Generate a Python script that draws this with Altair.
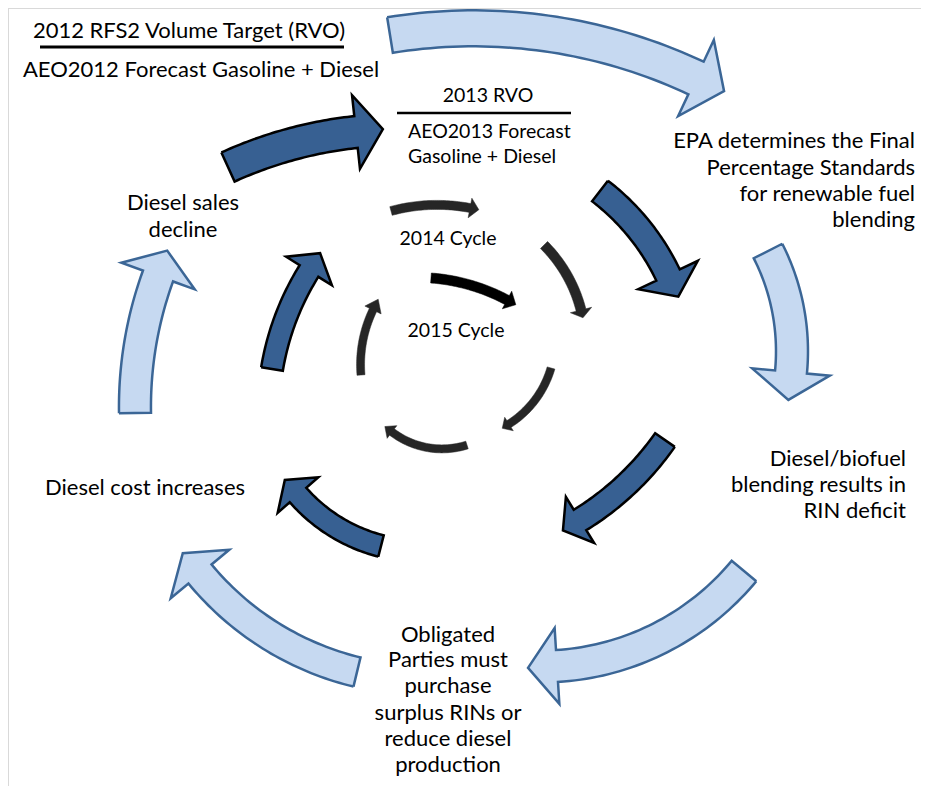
import math
import altair as alt
import pandas as pd

# ------------------------------------------------------------------
# Arrow geometry (figure pixel coordinates).
# Each curved arrow: tail centre, a point half-way along, head-base centre,
# half band width, half head width and head length.
# ------------------------------------------------------------------
arrow_ring = ["outer"] * 5 + ["middle"] * 5 + ["inner"] * 5 + ["cycle2015"]
tail_x = [390, 768, 744, 357, 135, 228, 600, 665, 381, 272, 391, 544, 551, 467, 361, 431]
tail_y = [35, 251, 571, 672, 413, 167, 191, 440, 546, 369, 211, 245, 368, 445, 375, 278]
mid_x = [543, 789, 660, 271, 140, 292, 639, 627, 336, 285, 431, 568, 535, 430, 363, 470]
mid_y = [33, 315, 638, 636, 345, 144, 229, 484, 527, 320, 205, 277, 400, 448, 340, 285]
head_x = [696, 791, 557, 200, 158, 356, 668, 580, 298, 309, 470, 581, 509, 392, 373, 507]
head_y = [78, 372, 666, 574, 276, 132, 275, 520, 495, 271, 208, 310, 424, 432, 310, 300]
band_half = [18, 16, 16, 15, 16, 16, 13, 12, 11, 11, 4.5, 5, 4, 4, 4, 5]
head_half = [42, 39, 38, 38, 39, 37, 33, 27, 27, 27, 10, 11, 8, 8, 9, 10]
head_len = [31, 28, 29, 27, 27, 27, 24, 20, 20, 21, 9, 8, 8, 9, 12, 10]

# ------------------------------------------------------------------
# Text labels
# ------------------------------------------------------------------
big_center_text = ["2012 RFS2 Volume Target (RVO)", "AEO2012 Forecast Gasoline + Diesel",
                   "Diesel sales", "decline",
                   "Obligated", "Parties must", "purchase", "surplus RINs or",
                   "reduce diesel", "production"]
big_center_x = [189, 201, 183, 183, 448, 448, 448, 448, 448, 448]
big_center_y = [38, 77, 210, 237, 642, 667, 693, 720, 746, 772]

big_right_text = ["EPA determines the Final", "Percentage Standards", "for renewable fuel",
                  "blending", "Diesel/biofuel", "blending results in", "RIN deficit"]
big_right_x = [915, 915, 915, 915, 906, 906, 906]
big_right_y = [148, 175, 201, 227, 466, 492, 518]

big_left_text = ["Diesel cost increases"]
big_left_x = [45]
big_left_y = [495]

small_center_text = ["2013 RVO", "2014 Cycle", "2015 Cycle"]
small_center_x = [488, 448, 456]
small_center_y = [102, 245, 337]

small_left_text = ["AEO2013 Forecast", "Gasoline + Diesel"]
small_left_x = [408, 408]
small_left_y = [138, 163]

rule_x = [40, 397]
rule_x2 = [344, 571]
rule_y = [47, 113]
rule_w = [3, 2.5]


def circle_through(p1, p2, p3):
    ax, ay = p1
    bx, by = p2
    cx, cy = p3
    d = 2 * (ax * (by - cy) + bx * (cy - ay) + cx * (ay - by))
    ux = ((ax * ax + ay * ay) * (by - cy) + (bx * bx + by * by) * (cy - ay) + (cx * cx + cy * cy) * (ay - by)) / d
    uy = ((ax * ax + ay * ay) * (cx - bx) + (bx * bx + by * by) * (ax - cx) + (cx * cx + cy * cy) * (bx - ax)) / d
    return ux, uy


def arrow_polygon(i, n=40):
    T = (tail_x[i], tail_y[i])
    M = (mid_x[i], mid_y[i])
    H = (head_x[i], head_y[i])
    ux, uy = circle_through(T, M, H)
    r = math.hypot(T[0] - ux, T[1] - uy)
    a0 = math.atan2(T[1] - uy, T[0] - ux)
    am = math.atan2(M[1] - uy, M[0] - ux)
    a1 = math.atan2(H[1] - uy, H[0] - ux)
    tw = 2 * math.pi
    if (am - a0) % tw < (a1 - a0) % tw:
        sweep = (a1 - a0) % tw
    else:
        sweep = -((a0 - a1) % tw)
    w, hh, L = band_half[i], head_half[i], head_len[i]
    pts = []
    for k in range(n + 1):
        a = a0 + sweep * k / n
        pts.append((ux + (r + w) * math.cos(a), uy + (r + w) * math.sin(a)))
    ae = a0 + sweep
    s = 1 if sweep > 0 else -1
    hx = ux + r * math.cos(ae)
    hy = uy + r * math.sin(ae)
    pts.append((ux + (r + hh) * math.cos(ae), uy + (r + hh) * math.sin(ae)))
    pts.append((hx + L * s * -math.sin(ae), hy + L * s * math.cos(ae)))
    pts.append((ux + (r - hh) * math.cos(ae), uy + (r - hh) * math.sin(ae)))
    for k in range(n, -1, -1):
        a = a0 + sweep * k / n
        pts.append((ux + (r - w) * math.cos(a), uy + (r - w) * math.sin(a)))
    pts.append(pts[0])
    return pts


rows = []
for i in range(len(arrow_ring)):
    for k, (px, py) in enumerate(arrow_polygon(i)):
        rows.append({"id": i, "ring": arrow_ring[i], "k": k, "x": px, "y": py})
arrows = pd.DataFrame(rows)

W, H = 913, 778
xs = alt.Scale(domain=[8, 8 + W], nice=False, zero=False)
ys = alt.Scale(domain=[8 + H, 8], nice=False, zero=False)
X = lambda f="x": alt.X(f"{f}:Q", scale=xs, axis=None)
Y = lambda f="y": alt.Y(f"{f}:Q", scale=ys, axis=None)


def arrow_layer(ring, fill, stroke, sw):
    d = arrows[arrows["ring"] == ring]
    return alt.Chart(d).mark_line(fill=fill, stroke=stroke, strokeWidth=sw,
                                  strokeJoin="miter", interpolate="linear").encode(
        x=X(), y=Y(), detail="id:N", order="k:Q")


FONT = "Lato"


def text_layer(texts, xv, yv, align, size):
    d = pd.DataFrame({"t": texts, "x": xv, "y": yv})
    return alt.Chart(d).mark_text(align=align, baseline="alphabetic", font=FONT,
                                  fontSize=size, color="#000000").encode(
        x=X(), y=Y(), text="t:N")


border = alt.Chart(pd.DataFrame({"x": [8, 8], "x2": [8 + W, 8], "y": [8, 8], "y2": [8, 8 + H]})).mark_rule(
    color="#d9d9d9", strokeWidth=2).encode(x=X(), x2="x2:Q", y=Y(), y2="y2:Q")

rules = alt.Chart(pd.DataFrame({"x": rule_x, "x2": rule_x2, "y": rule_y, "w": rule_w})).mark_rule(
    color="#000000").encode(x=X(), x2="x2:Q", y=Y(), strokeWidth=alt.StrokeWidth("w:Q", scale=None))

BIG, SMALL = 22, 19.5
chart = alt.layer(
    border,
    arrow_layer("outer", "#c6d9f1", "#3b6696", 2.5),
    arrow_layer("middle", "#376092", "#000000", 2.5),
    arrow_layer("inner", "#262626", "#262626", 0.5),
    arrow_layer("cycle2015", "#000000", "#000000", 0.5),
    rules,
    text_layer(big_center_text, big_center_x, big_center_y, "center", BIG),
    text_layer(big_right_text, big_right_x, big_right_y, "right", BIG),
    text_layer(big_left_text, big_left_x, big_left_y, "left", BIG),
    text_layer(small_center_text, small_center_x, small_center_y, "center", SMALL),
    text_layer(small_left_text, small_left_x, small_left_y, "left", SMALL),
).properties(
    width=W, height=H, padding=0,
    autosize=alt.AutoSizeParams(type="none"),
    background="#ffffff",
).configure_view(stroke=None)

chart.save("out.html", embed_options={"renderer": "svg", "actions": False})
